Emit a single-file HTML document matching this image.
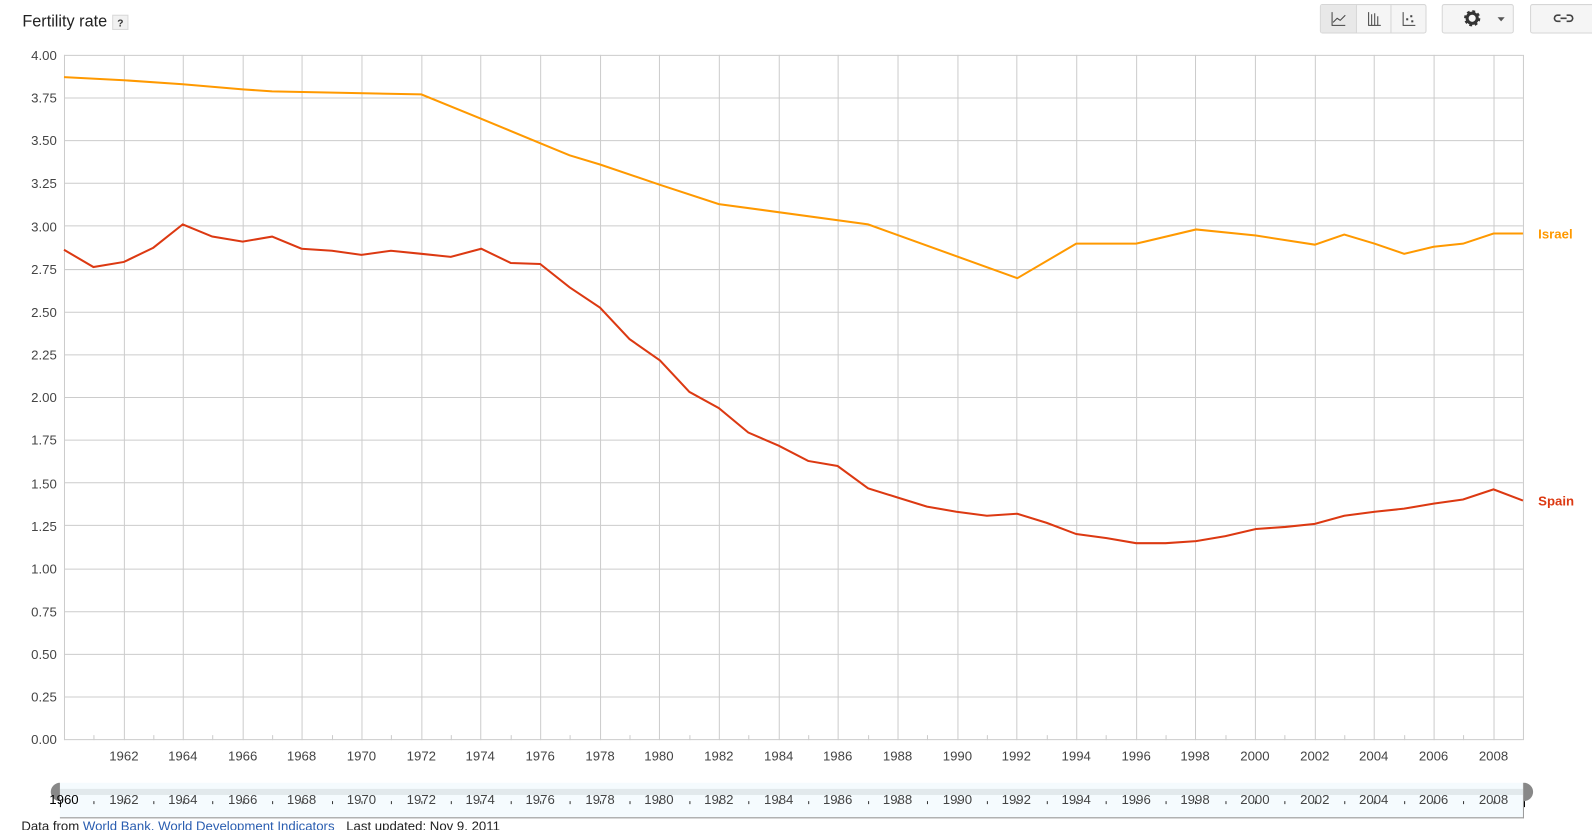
<!DOCTYPE html>
<html><head><meta charset="utf-8"><style>
body{margin:0;background:#fff;width:1592px;height:830px;overflow:hidden;font-family:"Liberation Sans",Arial,sans-serif}
svg{position:absolute;left:0;top:0}
</style></head><body>
<svg width="1592" height="830" viewBox="0 0 1568 817.5" font-family="Liberation Sans, Arial, sans-serif">
<text x="22" y="26" font-size="16" fill="#222">Fertility rate</text>
<rect x="111" y="15" width="15" height="14" fill="#f1f1f1" stroke="#d8d8d8"/>
<text x="118.5" y="26" font-size="10" font-weight="bold" text-anchor="middle" fill="#333">?</text>
<rect x="1300.5" y="4.5" width="104" height="28" rx="2" fill="#f5f5f5" stroke="#d6d6d6"/>
<rect x="1301" y="5" width="35" height="27" fill="#e8e8e8"/>
<line x1="1336" y1="5" x2="1336" y2="32" stroke="#d6d6d6"/><line x1="1370" y1="5" x2="1370" y2="32" stroke="#d6d6d6"/>
<path d="M1312 12v13h13 M1313 22l4-4 3 2 5-5" fill="none" stroke="#444" stroke-width="1"/>
<path d="M1348 12v13h12 M1351 14v11 M1354 13v12 M1357 16v9" fill="none" stroke="#444" stroke-width="1"/>
<path d="M1382 12v13h12" fill="none" stroke="#444"/><rect x="1385" y="18" width="2" height="2" fill="#444"/><rect x="1389" y="15" width="2" height="2" fill="#444"/><rect x="1390" y="20" width="2" height="2" fill="#444"/>
<rect x="1420.5" y="4.5" width="70" height="28" rx="2" fill="#f5f5f5" stroke="#d6d6d6"/>
<circle cx="1450" cy="18" r="6" fill="none" stroke="#333" stroke-width="4" stroke-dasharray="2.4 2.3"/>
<circle cx="1450" cy="18" r="5" fill="none" stroke="#333" stroke-width="3"/>
<path d="M1475 17h7l-3.5 4z" fill="#555"/>
<rect x="1507.5" y="4.5" width="80" height="28" rx="2" fill="#f5f5f5" stroke="#d6d6d6"/>
<path d="M1537 15h-3a3 3 0 0 0 0 6h3 M1543 15h3a3 3 0 0 1 0 6h-3 M1537 18h6" fill="none" stroke="#444" stroke-width="1.6"/>
<g stroke="#cccccc" stroke-width="1">
<line x1="63" y1="54.5" x2="1500" y2="54.5"/><line x1="63" y1="96.5" x2="1500" y2="96.5"/><line x1="63" y1="138.5" x2="1500" y2="138.5"/><line x1="63" y1="180.5" x2="1500" y2="180.5"/><line x1="63" y1="222.5" x2="1500" y2="222.5"/><line x1="63" y1="265.5" x2="1500" y2="265.5"/><line x1="63" y1="307.5" x2="1500" y2="307.5"/><line x1="63" y1="349.5" x2="1500" y2="349.5"/><line x1="63" y1="391.5" x2="1500" y2="391.5"/><line x1="63" y1="433.5" x2="1500" y2="433.5"/><line x1="63" y1="475.5" x2="1500" y2="475.5"/><line x1="63" y1="517.5" x2="1500" y2="517.5"/><line x1="63" y1="560.5" x2="1500" y2="560.5"/><line x1="63" y1="602.5" x2="1500" y2="602.5"/><line x1="63" y1="644.5" x2="1500" y2="644.5"/><line x1="63" y1="686.5" x2="1500" y2="686.5"/><line x1="63" y1="728.5" x2="1500" y2="728.5"/>
<line x1="63.5" y1="54" x2="63.5" y2="729"/><line x1="1500.5" y1="54" x2="1500.5" y2="729"/>
<line x1="122.5" y1="54" x2="122.5" y2="729"/><line x1="180.5" y1="54" x2="180.5" y2="729"/><line x1="239.5" y1="54" x2="239.5" y2="729"/><line x1="297.5" y1="54" x2="297.5" y2="729"/><line x1="356.5" y1="54" x2="356.5" y2="729"/><line x1="415.5" y1="54" x2="415.5" y2="729"/><line x1="473.5" y1="54" x2="473.5" y2="729"/><line x1="532.5" y1="54" x2="532.5" y2="729"/><line x1="591.5" y1="54" x2="591.5" y2="729"/><line x1="649.5" y1="54" x2="649.5" y2="729"/><line x1="708.5" y1="54" x2="708.5" y2="729"/><line x1="767.5" y1="54" x2="767.5" y2="729"/><line x1="825.5" y1="54" x2="825.5" y2="729"/><line x1="884.5" y1="54" x2="884.5" y2="729"/><line x1="943.5" y1="54" x2="943.5" y2="729"/><line x1="1001.5" y1="54" x2="1001.5" y2="729"/><line x1="1060.5" y1="54" x2="1060.5" y2="729"/><line x1="1119.5" y1="54" x2="1119.5" y2="729"/><line x1="1177.5" y1="54" x2="1177.5" y2="729"/><line x1="1236.5" y1="54" x2="1236.5" y2="729"/><line x1="1295.5" y1="54" x2="1295.5" y2="729"/><line x1="1353.5" y1="54" x2="1353.5" y2="729"/><line x1="1412.5" y1="54" x2="1412.5" y2="729"/><line x1="1471.5" y1="54" x2="1471.5" y2="729"/>
<path d="M92.5 724v5M151.5 724v5M209.5 724v5M268.5 724v5M327.5 724v5M385.5 724v5M444.5 724v5M503.5 724v5M561.5 724v5M620.5 724v5M679.5 724v5M737.5 724v5M796.5 724v5M855.5 724v5M913.5 724v5M972.5 724v5M1031.5 724v5M1089.5 724v5M1148.5 724v5M1207.5 724v5M1265.5 724v5M1324.5 724v5M1383.5 724v5M1441.5 724v5"/>
</g>
<g font-size="13" fill="#444" text-anchor="end">
<text x="56" y="59">4.00</text><text x="56" y="101">3.75</text><text x="56" y="143">3.50</text><text x="56" y="185">3.25</text><text x="56" y="228">3.00</text><text x="56" y="270">2.75</text><text x="56" y="312">2.50</text><text x="56" y="354">2.25</text><text x="56" y="396">2.00</text><text x="56" y="438">1.75</text><text x="56" y="481">1.50</text><text x="56" y="523">1.25</text><text x="56" y="565">1.00</text><text x="56" y="607">0.75</text><text x="56" y="649">0.50</text><text x="56" y="691">0.25</text><text x="56" y="733">0.00</text>
</g>
<g font-size="13" fill="#444" text-anchor="middle">
<text x="122" y="749">1962</text><text x="180" y="749">1964</text><text x="239" y="749">1966</text><text x="297" y="749">1968</text><text x="356" y="749">1970</text><text x="415" y="749">1972</text><text x="473" y="749">1974</text><text x="532" y="749">1976</text><text x="591" y="749">1978</text><text x="649" y="749">1980</text><text x="708" y="749">1982</text><text x="767" y="749">1984</text><text x="825" y="749">1986</text><text x="884" y="749">1988</text><text x="943" y="749">1990</text><text x="1001" y="749">1992</text><text x="1060" y="749">1994</text><text x="1119" y="749">1996</text><text x="1177" y="749">1998</text><text x="1236" y="749">2000</text><text x="1295" y="749">2002</text><text x="1353" y="749">2004</text><text x="1412" y="749">2006</text><text x="1471" y="749">2008</text>
</g>
<polyline fill="none" stroke="#ff9900" stroke-width="2" points="63,76 122,79 180,83 239,88 268,90 415,93 474,117 532,141 561,153 591,162 650,182 708,201 855,221 1002,274 1060,240 1119,240 1178,226 1237,232 1295,241 1324,231 1354,240 1383,250 1412,243 1441,240 1471,230 1500,230"/>
<polyline fill="none" stroke="#dc3912" stroke-width="2" points="63,246 92,263 122,258 151,244 180,221 209,233 239,238 268,233 297,245 327,247 356,251 385,247 415,250 444,253 474,245 503,259 532,260 561,283 591,303 620,334 650,355 679,386 708,402 737,426 767,439 796,454 825,459 855,481 884,490 913,499 942,504 972,508 1002,506 1031,515 1060,526 1090,530 1119,535 1148,535 1178,533 1207,528 1237,521 1266,519 1295,516 1324,508 1354,504 1383,501 1412,496 1441,492 1471,482 1500,493"/>
<text x="1515" y="235" font-size="13" font-weight="bold" fill="#ff9900">Israel</text>
<text x="1515" y="498" font-size="13" font-weight="bold" fill="#dc3912">Spain</text>
<rect x="59" y="771" width="1441" height="34" fill="#f5fbfe"/>
<rect x="59" y="777" width="1441" height="6" fill="#e2e9ec"/>
<line x1="59" y1="805.5" x2="1501" y2="805.5" stroke="#999"/>
<line x1="1500.5" y1="771" x2="1500.5" y2="806" stroke="#999"/>
<path d="M59 771a9 9 0 0 0 0 18z" fill="#888"/>
<path d="M1501 771a9 9 0 0 1 0 18z" fill="#888"/>
<path d="M59.5 789v6M1501.5 789v6" stroke="#000"/>
<path stroke="#333" d="M92.5 789v3M122.5 789v3M151.5 789v3M180.5 789v3M209.5 789v3M239.5 789v3M268.5 789v3M297.5 789v3M327.5 789v3M356.5 789v3M385.5 789v3M415.5 789v3M444.5 789v3M473.5 789v3M503.5 789v3M532.5 789v3M561.5 789v3M591.5 789v3M620.5 789v3M649.5 789v3M679.5 789v3M708.5 789v3M737.5 789v3M767.5 789v3M796.5 789v3M825.5 789v3M855.5 789v3M884.5 789v3M913.5 789v3M943.5 789v3M972.5 789v3M1001.5 789v3M1031.5 789v3M1060.5 789v3M1089.5 789v3M1119.5 789v3M1148.5 789v3M1177.5 789v3M1207.5 789v3M1236.5 789v3M1265.5 789v3M1295.5 789v3M1324.5 789v3M1353.5 789v3M1383.5 789v3M1412.5 789v3M1441.5 789v3M1471.5 789v3"/>
<g font-size="13" fill="#444" text-anchor="middle">
<text x="63" y="792" fill="#000">1960</text><text x="122" y="792">1962</text><text x="180" y="792">1964</text><text x="239" y="792">1966</text><text x="297" y="792">1968</text><text x="356" y="792">1970</text><text x="415" y="792">1972</text><text x="473" y="792">1974</text><text x="532" y="792">1976</text><text x="591" y="792">1978</text><text x="649" y="792">1980</text><text x="708" y="792">1982</text><text x="767" y="792">1984</text><text x="825" y="792">1986</text><text x="884" y="792">1988</text><text x="943" y="792">1990</text><text x="1001" y="792">1992</text><text x="1060" y="792">1994</text><text x="1119" y="792">1996</text><text x="1177" y="792">1998</text><text x="1236" y="792">2000</text><text x="1295" y="792">2002</text><text x="1353" y="792">2004</text><text x="1412" y="792">2006</text><text x="1471" y="792">2008</text>
</g>
<text x="21" y="818" font-size="13" fill="#222">Data from <tspan fill="#2a5db0">World Bank, World Development Indicators</tspan></text>
<text x="341" y="818" font-size="13" fill="#222">Last updated: Nov 9, 2011</text>
</svg>
</body></html>
